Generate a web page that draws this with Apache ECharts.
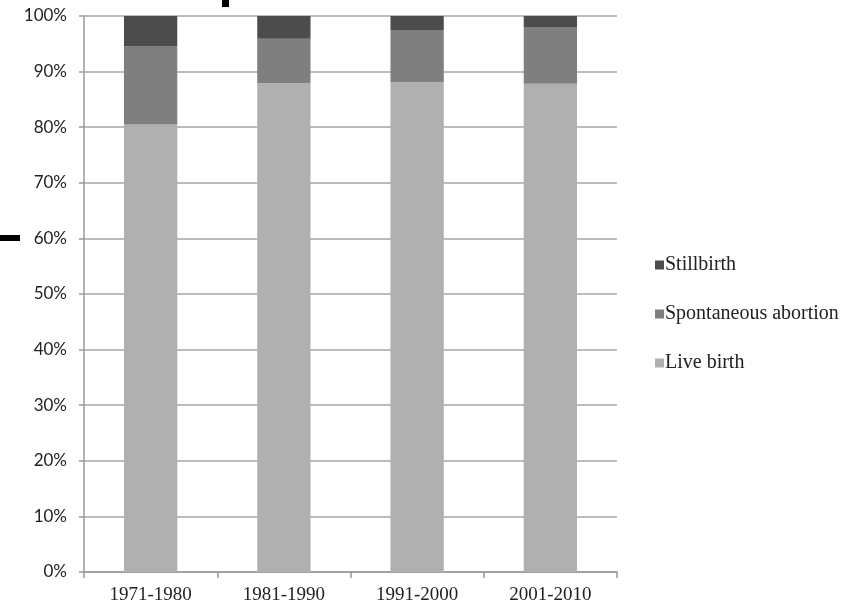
<!DOCTYPE html>
<html>
<head>
<meta charset="utf-8">
<script src="https://cdn.jsdelivr.net/npm/echarts@6/dist/echarts.min.js"></script>
<style>
  html, body { margin: 0; padding: 0; background: #fff; }
  #chart { width: 857px; height: 613px; }
</style>
</head>
<body>
<div id="chart"></div>
<script>
// Decades on the category axis
const decades = ['1971-1980', '1981-1990', '1991-2000', '2001-2010'];

// Pregnancy outcome shares per decade (percent of all outcomes)
const liveBirth = [80.5, 87.9, 88.1, 87.8];
const spontaneousAbortion = [14.0, 8.0, 9.4, 10.2];
const stillbirth = [5.5, 4.1, 2.5, 2.0];

// Value axis ticks
const yMin = 0, yMax = 100, yStep = 10;

const serif = '"Liberation Serif", "DejaVu Serif", serif';
const sans = 'Lato, "Liberation Sans", sans-serif';

const chart = echarts.init(document.getElementById('chart'), null, { renderer: 'canvas' });

function bar(name, values, color) {
  return {
    name: name,
    type: 'bar',
    stack: 'outcome',
    data: values,
    barCategoryGap: '60%',
    itemStyle: { color: color },
    emphasis: { disabled: true }
  };
}

chart.setOption({
  animation: false,
  grid: { left: 84, right: 240, top: 16, bottom: 41, containLabel: false },
  legend: {
    orient: 'vertical',
    left: 650,
    top: 249,
    itemWidth: 9,
    itemHeight: 9,
    itemGap: 27,
    icon: 'rect',
    data: ['Stillbirth', 'Spontaneous abortion', 'Live birth'],
    textStyle: { fontFamily: serif, fontSize: 20, color: '#222', lineHeight: 22, padding: [0, 0, 0, -4] }
  },
  xAxis: {
    type: 'category',
    data: decades,
    axisLine: { lineStyle: { color: '#999', width: 1.5 } },
    axisTick: { show: true, length: 6, lineStyle: { color: '#999', width: 1.5 } },
    axisLabel: { fontFamily: serif, fontSize: 19, color: '#222', margin: 14 }
  },
  yAxis: {
    type: 'value',
    min: yMin,
    max: yMax,
    interval: yStep,
    axisLine: { show: true, lineStyle: { color: '#999', width: 1.5 } },
    axisTick: { show: true, length: 5, lineStyle: { color: '#999', width: 1.5 } },
    splitLine: { lineStyle: { color: '#a6a6a6', width: 1.5 } },
    axisLabel: { fontFamily: sans, fontSize: 17, color: '#222', margin: 17, formatter: '{value}%' }
  },
  series: [
    bar('Live birth', liveBirth, '#b0b0b0'),
    bar('Spontaneous abortion', spontaneousAbortion, '#7f7f7f'),
    bar('Stillbirth', stillbirth, '#4c4c4c')
  ],
  graphic: [
    { type: 'rect', shape: { x: 222, y: 0, width: 7, height: 7 }, style: { fill: '#000' } },
    { type: 'rect', shape: { x: 0, y: 235, width: 20, height: 6 }, style: { fill: '#000' } }
  ]
});
</script>
</body>
</html>
